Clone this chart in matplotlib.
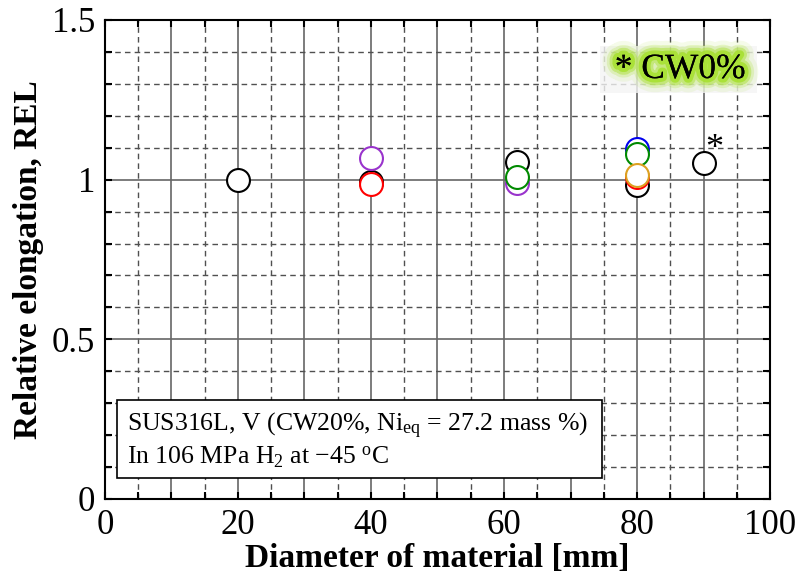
import matplotlib
matplotlib.use("Agg")
import matplotlib.pyplot as plt
import matplotlib.patheffects as pe
from matplotlib.patches import Rectangle
import numpy as np

plt.rcParams['font.family'] = ['Liberation Serif', 'DejaVu Serif']
plt.rcParams['mathtext.fontset'] = 'custom'
plt.rcParams['mathtext.rm'] = 'Liberation Serif'
plt.rcParams['mathtext.it'] = 'Liberation Serif:italic'
plt.rcParams['mathtext.bf'] = 'Liberation Serif:bold'

# Data (diameter mm, relative elongation)
black_x = [20, 40, 62, 80]
black_y = [1.0, 0.993, 1.056, 0.982]
purple_x = [40, 62]
purple_y = [1.067, 0.988]
red_x = [40, 80]
red_y = [0.986, 1.008]
blue_x = [80]
blue_y = [1.095]
green_x = [62, 80]
green_y = [1.009, 1.079]
orange_x = [80]
orange_y = [1.016]
cw0_x = [90]
cw0_y = [1.052]

x_ticks = [0, 20, 40, 60, 80, 100]
y_ticks = [0, 0.5, 1, 1.5]
y_tick_labels = ['0', '0.5', '1', '1.5']

fig = plt.figure(figsize=(7.95, 5.78), dpi=100)
ax = fig.add_axes([0.132, 0.1367, 0.8366, 0.8287])
ax.set_xlim(0, 100)
ax.set_ylim(0, 1.5)

# grid
for xv in np.arange(5, 100, 5):
    if xv % 10 == 0:
        ax.axvline(xv, color='#666666', lw=1.2, zorder=1)
    else:
        ax.axvline(xv, color='#505050', lw=1.0, ls=(0, (4, 3)), zorder=1)
for yv in np.arange(0.1, 1.5, 0.1):
    if abs(yv - 0.5) < 1e-6 or abs(yv - 1.0) < 1e-6:
        ax.axhline(yv, color='#666666', lw=1.2, zorder=1)
    else:
        ax.axhline(yv, color='#505050', lw=1.0, ls=(0, (4, 3)), zorder=1)

mk = dict(marker='o', ls='none', ms=16.5, mfc='white', mew=1.5, zorder=3)
ax.plot(black_x, black_y, mec='black', **mk)
ax.plot(purple_x, purple_y, mec='#9933cc', **mk)
ax.plot(red_x, red_y, mec='#ff0000', **mk)
ax.plot(blue_x, blue_y, mec='#0000ee', **mk)
ax.plot(green_x, green_y, mec='#008a00', **mk)
ax.plot(orange_x, orange_y, mec='#dca020', **mk)
ax.plot(cw0_x, cw0_y, mec='black', **mk)
ax.text(91.6, 1.095, '*', fontsize=26, ha='center', va='center', zorder=4)

# faint shadow box behind the CW0% label
ax.add_patch(Rectangle((74.5, 1.27), 23.5, 0.15, facecolor='#f4f4f4',
                       edgecolor='none', alpha=0.8, zorder=2))
# CW0% label with glow
glow = [pe.withStroke(linewidth=lw, foreground='#a6e02e', alpha=a)
        for lw, a in [(20, 0.10), (14, 0.22), (10, 0.45), (6, 0.85)]] + [pe.Normal()]
t = ax.text(86.5, 1.345, '* CW0%', fontsize=25.5, ha='center', va='center', zorder=5)
t.set_path_effects(glow)

# info box
ax.add_patch(Rectangle((1.8, 0.066), 72.9, 0.244, facecolor='white',
                       edgecolor='black', lw=1.2, zorder=6))
ax.text(3.3, 0.229, 'SUS316L, V (CW20%, Ni$_{\\mathrm{eq}}$ = 27.2 mass %)',
        fontsize=18.5, va='center', ha='left', zorder=7)
ax.text(3.3, 0.131, 'In 106 MPa H$_2$ at \u221245 $^{\\mathrm{o}}$C',
        fontsize=18.5, va='center', ha='left', zorder=7)

ax.set_xticks(x_ticks)
ax.set_xticks(np.arange(0, 101, 5), minor=True)
ax.set_yticks(y_ticks)
ax.set_yticklabels(y_tick_labels)
ax.set_yticks(np.arange(0, 1.51, 0.1), minor=True)
ax.tick_params(which='both', direction='in', top=True, right=True, width=1.5,
               labelsize=25, pad=7)
ax.tick_params(which='major', length=5)
ax.tick_params(which='minor', length=5)
for s in ax.spines.values():
    s.set_linewidth(1.5)

ax.set_xlabel('Diameter of material [mm]', fontsize=24, fontweight='bold', labelpad=1)
ax.set_ylabel('Relative elongation, REL', fontsize=24, fontweight='bold', labelpad=6)

fig.savefig('out.png', dpi=100)
